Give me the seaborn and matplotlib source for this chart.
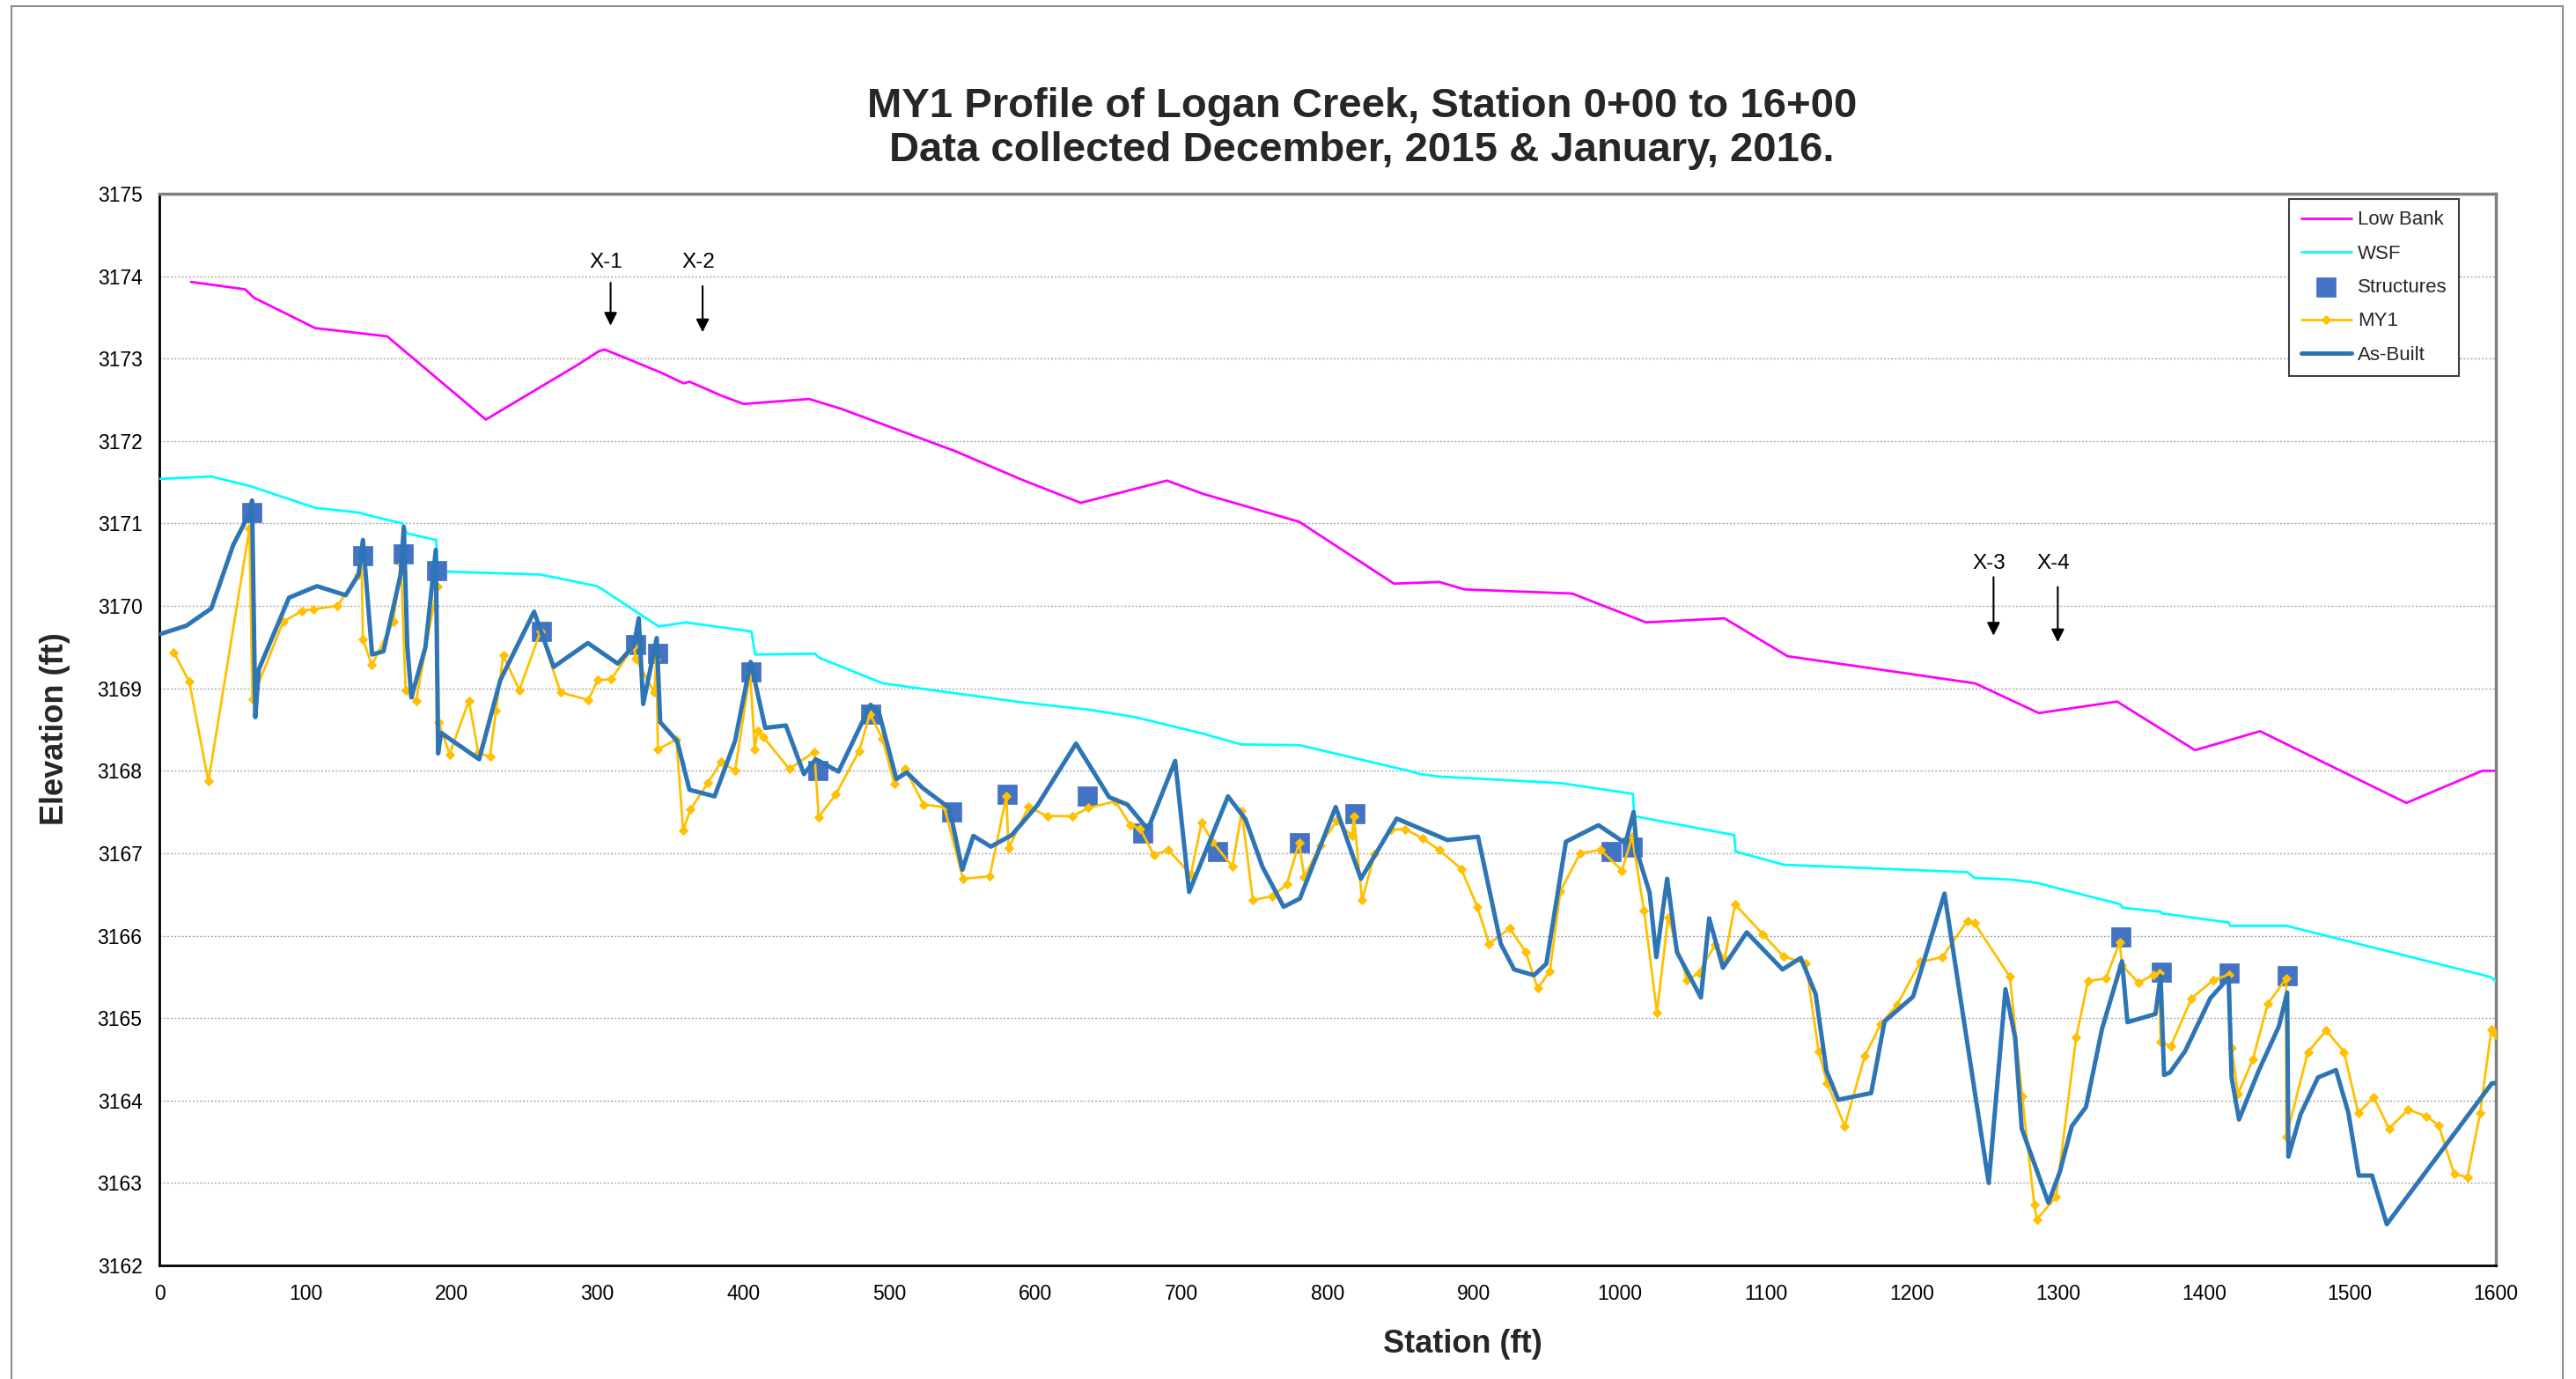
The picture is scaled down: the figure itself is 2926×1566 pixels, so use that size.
import matplotlib
matplotlib.use("Agg")
import matplotlib.pyplot as plt
import matplotlib.patches as mpatches
import seaborn as sns

# ---------------- data ----------------
lowbank_sta = [21.7, 58.8, 64.6, 106.7, 156, 223.6, 287, 301, 305, 343.6, 359, 363, 385, 400, 445, 467,
               544.6, 590.7, 631, 690, 714.6, 780.6, 845.4, 876.5, 893.7, 967.5, 1018, 1071.7, 1115,
               1243.5, 1287, 1340.6, 1394, 1438.5, 1538.7, 1590.7, 1600]
lowbank_elev = [3173.93, 3173.84, 3173.74, 3173.37, 3173.27, 3172.26, 3172.93, 3173.09, 3173.11, 3172.83,
                3172.70, 3172.72, 3172.55, 3172.45, 3172.51, 3172.39, 3171.88, 3171.53, 3171.25, 3171.52,
                3171.36, 3171.02, 3170.27, 3170.29, 3170.20, 3170.15, 3169.80, 3169.85, 3169.39, 3169.06,
                3168.70, 3168.84, 3168.25, 3168.48, 3167.61, 3168.0, 3168.0]

wsf_sta = [0, 35.6, 62.7, 106.7, 137.5, 143, 166.5, 169.5, 189.6, 190.6, 261, 299.9, 342, 360.5, 405.5, 408,
           449, 452, 495.6, 590.7, 637, 668.5, 714.7, 740.8, 781, 855.3, 863.4, 876.5, 959.8, 1009, 1010,
           1078.4, 1079.4, 1112.5, 1238, 1243, 1268, 1286, 1301, 1343, 1344, 1370.4, 1371.3, 1417, 1418,
           1456.5, 1596, 1600]
wsf_elev = [3171.54, 3171.57, 3171.45, 3171.19, 3171.13, 3171.10, 3171.0, 3170.88, 3170.80, 3170.42, 3170.38,
            3170.24, 3169.75, 3169.80, 3169.69, 3169.41, 3169.42, 3169.37, 3169.06, 3168.83, 3168.74, 3168.65,
            3168.45, 3168.32, 3168.31, 3168.0, 3167.96, 3167.93, 3167.85, 3167.72, 3167.45, 3167.22, 3167.02,
            3166.86, 3166.77, 3166.70, 3166.68, 3166.64, 3166.57, 3166.38, 3166.34, 3166.29, 3166.27, 3166.16,
            3166.12, 3166.12, 3165.5, 3165.45]

struct_sta = [63.5, 139, 167, 190, 261.5, 326, 341, 405, 451, 487, 542.5, 580.7, 635.3, 673.5, 724.7, 780.6,
              818.4, 994, 1008.6, 1343, 1371, 1417.4, 1457]
struct_elev = [3171.13, 3170.61, 3170.63, 3170.43, 3169.69, 3169.53, 3169.42, 3169.2, 3168.0, 3168.69, 3167.5,
               3167.71, 3167.69, 3167.25, 3167.02, 3167.13, 3167.48, 3167.02, 3167.07, 3165.98, 3165.56,
               3165.55, 3165.51]

my1_sta = [9.8, 20.5, 33.6, 61.7, 63.7, 84.8, 97.8, 105.5, 122, 136, 138.5, 139.4, 145.5, 160.1, 165.5, 168.6,
           175.8, 190.3, 191.3, 198.7, 212, 218.4, 226.4, 230.5, 235.5, 246.5, 261, 274.7, 293.7, 300.2, 309.4,
           324.9, 326.3, 338.9, 340.3, 341.4, 354, 358.7, 363.7, 375.5, 384.8, 394.2, 404.6, 407.7, 409.7, 413.7,
           431.4, 448.5, 451.5, 463.1, 479.2, 486.6, 495.1, 503.3, 510.7, 523.4, 537.5, 550.3, 568.6, 580,
           581.5, 595.1, 608.2, 625.3, 636.3, 654.8, 664.9, 671.5, 681, 691, 706.3, 713.7, 721.1, 734.8, 741.2,
           748.8, 761.9, 772, 780.5, 784, 795, 806.1, 816.8, 818, 823.6, 832.2, 843.7, 853.3, 865, 876.4, 891.5,
           902.5, 910.6, 924.7, 935.7, 943.8, 952.2, 959.4, 972.9, 986.9, 1001.6, 1008.5, 1016.7, 1025.5,
           1033.2, 1046.2, 1054.2, 1065.3, 1071.9, 1079, 1097.8, 1112.1, 1127.6, 1136.2, 1142.1, 1154.1,
           1167.8, 1178.8, 1189.9, 1205.9, 1221, 1238.1, 1243.1, 1267.2, 1275.6, 1283.9, 1285.7, 1298.8,
           1312.6, 1320.7, 1332.9, 1342.4, 1344, 1355.2, 1365.3, 1369.5, 1370.4, 1377.4, 1391.6, 1406.4,
           1417.5, 1419, 1423.4, 1433.6, 1443.7, 1456.3, 1456.5, 1471.3, 1483.9, 1496, 1505.7, 1516.3,
           1526.8, 1540, 1552.3, 1560.8, 1571.4, 1580.5, 1589.2, 1596.9, 1600]
my1_elev = [3169.44, 3169.08, 3167.87, 3170.94, 3168.87, 3169.81, 3169.94, 3169.96, 3170.0, 3170.37, 3170.55,
            3169.6, 3169.28, 3169.81, 3170.5, 3168.98, 3168.85, 3170.24, 3168.59, 3168.2, 3168.85, 3168.22,
            3168.17, 3168.73, 3169.4, 3168.98, 3169.69, 3168.95, 3168.86, 3169.10, 3169.11, 3169.51, 3169.36,
            3168.95, 3169.35, 3168.26, 3168.38, 3167.28, 3167.53, 3167.85, 3168.11, 3168.0, 3169.19, 3168.26,
            3168.48, 3168.41, 3168.02, 3168.23, 3167.44, 3167.71, 3168.24, 3168.69, 3168.39, 3167.84, 3168.02,
            3167.59, 3167.56, 3166.69, 3166.72, 3167.69, 3167.06, 3167.56, 3167.45, 3167.45, 3167.55, 3167.63,
            3167.34, 3167.30, 3166.98, 3167.04, 3166.74, 3167.37, 3167.14, 3166.84, 3167.51, 3166.43, 3166.48,
            3166.62, 3167.13, 3166.71, 3167.10, 3167.39, 3167.21, 3167.45, 3166.43, 3166.99, 3167.29, 3167.29,
            3167.18, 3167.04, 3166.81, 3166.35, 3165.90, 3166.09, 3165.80, 3165.36, 3165.57, 3166.54, 3167.0,
            3167.04, 3166.79, 3167.2, 3166.30, 3165.07, 3166.22, 3165.46, 3165.55, 3165.89, 3165.72, 3166.38,
            3166.02, 3165.75, 3165.66, 3164.60, 3164.21, 3163.69, 3164.54, 3164.93, 3165.16, 3165.68, 3165.74,
            3166.18, 3166.15, 3165.50, 3164.05, 3162.74, 3162.56, 3162.83, 3164.77, 3165.45, 3165.48, 3165.92,
            3165.64, 3165.43, 3165.52, 3165.55, 3164.71, 3164.66, 3165.24, 3165.46, 3165.53, 3164.64, 3164.08,
            3164.5, 3165.17, 3165.48, 3163.56, 3164.59, 3164.85, 3164.59, 3163.85, 3164.04, 3163.66, 3163.89,
            3163.81, 3163.70, 3163.11, 3163.07, 3163.85, 3164.86, 3164.80]

asbuilt_sta = [0.8, 18.5, 35.6, 50.6, 61.7, 63.5, 65.7, 68.1, 88.8, 107.9, 127.6, 136.4, 139.4, 145.7, 153.5,
               165.2, 167.4, 169.8, 172.6, 182.2, 189.3, 190.9, 192.9, 219, 233.5, 256.6, 270, 293.4, 313.9,
               324.9, 328.3, 331.3, 340.6, 343, 354.6, 363, 380.2, 394.2, 404.9, 414.9, 429, 441.4, 449.5,
               465.1, 487, 493, 504.7, 511.8, 522.8, 540.9, 549.9, 557.4, 569.4, 583.7, 601.2, 627.7, 650.4,
               662.9, 676.9, 695.6, 705.2, 731.8, 743.8, 755.5, 769.9, 781, 805.5, 822.8, 847.3, 882, 903,
               918.6, 927.7, 941.3, 949.8, 963.2, 985.5, 1004, 1009.5, 1012, 1020.5, 1025.1, 1032.5, 1039.2,
               1055.6, 1061.3, 1070.7, 1087, 1111.5, 1124, 1134.2, 1141.6, 1149.7, 1172.2, 1181.4, 1200.9,
               1222.4, 1252.7, 1264.2, 1270.8, 1275.3, 1293.6, 1301.5, 1309.6, 1319.3, 1330.3, 1344, 1347.7,
               1357.2, 1366.9, 1370.4, 1372.8, 1376.8, 1387.2, 1404.4, 1417, 1419, 1424.1, 1437.3, 1451.4,
               1457.1, 1457.9, 1466.2, 1478.2, 1490.5, 1499, 1506.1, 1515.2, 1525.3, 1597.3, 1600]
asbuilt_elev = [3169.66, 3169.76, 3169.97, 3170.74, 3171.12, 3171.28, 3168.65, 3169.23, 3170.1, 3170.24,
                3170.13, 3170.38, 3170.80, 3169.41, 3169.45, 3170.38, 3170.96, 3169.51, 3168.89, 3169.50,
                3170.68, 3168.21, 3168.46, 3168.14, 3169.10, 3169.93, 3169.26, 3169.55, 3169.30, 3169.52,
                3169.85, 3168.81, 3169.61, 3168.59, 3168.36, 3167.77, 3167.69, 3168.36, 3169.32, 3168.52,
                3168.55, 3167.96, 3168.14, 3167.99, 3168.80, 3168.69, 3167.9, 3167.98, 3167.79, 3167.55,
                3166.80, 3167.21, 3167.08, 3167.22, 3167.58, 3168.33, 3167.68, 3167.59, 3167.29, 3168.12,
                3166.53, 3167.69, 3167.41, 3166.83, 3166.35, 3166.45, 3167.56, 3166.69, 3167.42, 3167.16,
                3167.20, 3165.90, 3165.59, 3165.52, 3165.66, 3167.14, 3167.34, 3167.12, 3167.50, 3167.01,
                3166.52, 3165.74, 3166.69, 3165.80, 3165.25, 3166.21, 3165.61, 3166.04, 3165.59, 3165.73,
                3165.29, 3164.36, 3164.01, 3164.09, 3164.96, 3165.26, 3166.51, 3163.0, 3165.35, 3164.76,
                3163.66, 3162.76, 3163.14, 3163.69, 3163.92, 3164.87, 3165.69, 3164.95, 3165.0, 3165.05,
                3165.51, 3164.31, 3164.34, 3164.6, 3165.24, 3165.49, 3164.28, 3163.77, 3164.35, 3164.90,
                3165.31, 3163.32, 3163.83, 3164.28, 3164.37, 3163.85, 3163.09, 3163.09, 3162.50, 3164.21,
                3164.21]

xsec_labels = ["X-1", "X-2", "X-3", "X-4"]
xsec_sta = [309, 372, 1256, 1300]
xsec_text_elev = [3174.17, 3174.17, 3170.51, 3170.51]
xsec_arrow_top = [3173.92, 3173.88, 3170.35, 3170.23]
xsec_arrow_tip = [3173.40, 3173.32, 3169.64, 3169.56]

x_ticks = list(range(0, 1601, 100))
y_ticks = list(range(3162, 3176))

title_text = "MY1 Profile of Logan Creek, Station 0+00 to 16+00\nData collected December, 2015 & January, 2016."

# ---------------- style ----------------
sns.set_style("white")
plt.rcParams['font.family'] = ['Liberation Sans', 'DejaVu Sans']

W, H = 2926, 1566
fig = plt.figure(figsize=(W / 100, H / 100), dpi=100)
ax = fig.add_axes([181 / W, 1 - 1437 / H, (2835 - 181) / W, (1437 - 220) / H])

sns.lineplot(x=lowbank_sta, y=lowbank_elev, ax=ax, color='#FF00FF', linewidth=2.0,
             sort=False, estimator=None, label='Low Bank', zorder=2)
sns.lineplot(x=wsf_sta, y=wsf_elev, ax=ax, color='#00FFFF', linewidth=2.0,
             sort=False, estimator=None, label='WSF', zorder=3)
sns.scatterplot(x=struct_sta, y=struct_elev, ax=ax, color='#4472C4', marker='s', s=240,
                edgecolor='#4472C4', linewidth=0.5, label='Structures', zorder=4)
sns.lineplot(x=my1_sta, y=my1_elev, ax=ax, color='#FFC000', linewidth=2.0, marker='D',
             markersize=5.5, markeredgecolor='#FFC000', sort=False, estimator=None, label='MY1', zorder=5)
sns.lineplot(x=asbuilt_sta, y=asbuilt_elev, ax=ax, color='#2E75B6', linewidth=3.6,
             sort=False, estimator=None, label='As-Built', zorder=6)

ax.set_xlim(0, 1600)
ax.set_ylim(3162, 3175)
ax.set_xticks(x_ticks)
ax.set_xticklabels([str(t) for t in x_ticks])
ax.set_yticks(y_ticks)
ax.set_yticklabels([str(t) for t in y_ticks])
ax.tick_params(axis='both', direction='out', length=6, width=1.2, colors='black', labelsize=16.5)
ax.tick_params(axis='y', pad=8)
ax.tick_params(axis='x', pad=9)
ax.yaxis.grid(True, color='#A6A6A6', linestyle=(0, (1.5, 1.5)), linewidth=1.0)
ax.xaxis.grid(False)
ax.set_axisbelow(True)
ax.set_xlabel('')
ax.set_ylabel('')

for side in ['left', 'bottom']:
    ax.spines[side].set_color('black')
    ax.spines[side].set_linewidth(2.0)
for side in ['top', 'right']:
    ax.spines[side].set_visible(True)
    ax.spines[side].set_color('#808080')
    ax.spines[side].set_linewidth(2.5)

# cross-section annotations
for lab, s, te, at, tip in zip(xsec_labels, xsec_sta, xsec_text_elev, xsec_arrow_top, xsec_arrow_tip):
    ax.text(s - 3, te, lab, ha='center', va='center', fontsize=17.5, color='black', zorder=7)
    ax.annotate('', xy=(s, tip), xytext=(s, at),
                arrowprops=dict(arrowstyle='-|>', color='black', lw=1.5, mutation_scale=22,
                                shrinkA=0, shrinkB=0), zorder=7)

leg = ax.legend(loc='upper right', bbox_to_anchor=((2793 - 181) / 2654, 0.995), fontsize=16,
                frameon=True, fancybox=False, framealpha=1, edgecolor='#404040',
                handlelength=2.6, labelspacing=0.78, borderpad=0.6, handletextpad=0.3,
                borderaxespad=0)
leg.get_frame().set_linewidth(1.5)
leg.set_zorder(10)

fig.text(1547 / W, 1 - 146 / H, title_text, ha='center', va='center', fontsize=34,
         fontweight='bold', linespacing=1.15)
fig.text(62 / W, 1 - 828 / H, 'Elevation (ft)', ha='center', va='center', rotation=90,
         fontsize=26, fontweight='bold')
fig.text(1661 / W, 1 - 1526 / H, 'Station (ft)', ha='center', va='center',
         fontsize=26, fontweight='bold')

# outer chart-area border
fig.patches.append(mpatches.Rectangle((13 / W, -0.01), (2911 - 13) / W, 1.01 - 7 / H,
                                      transform=fig.transFigure, fill=False,
                                      edgecolor='#8C8C8C', linewidth=1.5))

fig.savefig('out.png', dpi=100, facecolor='white')
